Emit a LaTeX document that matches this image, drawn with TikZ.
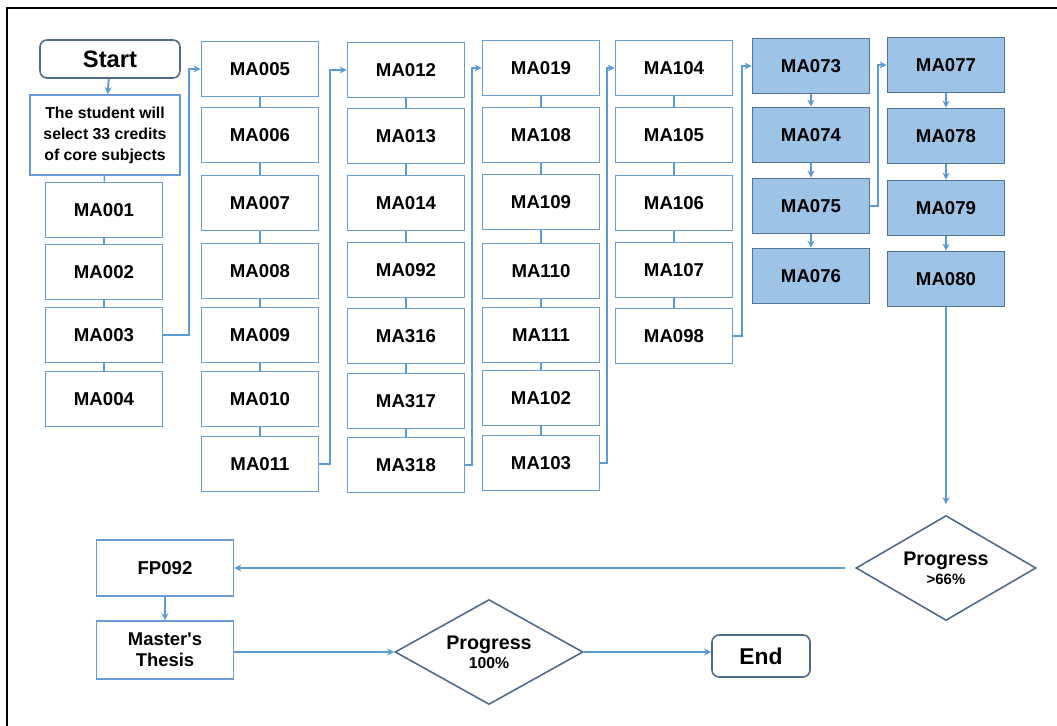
\documentclass[tikz,border=0pt]{standalone}
\usepackage{fontspec}
\setmainfont{Liberation Sans}
\usepackage{tikz}
\usetikzlibrary{shapes.geometric}
\usetikzlibrary{arrows.meta}
\definecolor{linkblue}{RGB}{91,155,213}
\definecolor{boxedge}{RGB}{105,155,212}
\definecolor{fillblue}{RGB}{157,195,230}
\definecolor{filledge}{RGB}{85,115,150}
\definecolor{darkedge}{RGB}{80,105,135}
\tikzset{
  course/.style={draw=boxedge, line width=1pt, minimum width=2.34cm, minimum height=1.1cm, inner sep=0pt, font=\fontsize{10.6}{12}\selectfont\bfseries},
  termbox/.style={draw=darkedge, line width=0.9pt, rounded corners=4pt, inner sep=0pt, font=\fontsize{13.5}{15}\selectfont\bfseries},
  check/.style={diamond, aspect=1.7, draw=darkedge, line width=0.9pt, minimum width=3.6cm, minimum height=2.1cm, inner sep=0pt, align=center, font=\fontsize{11.2}{12}\selectfont\bfseries},
  link/.style={draw=linkblue, line width=0.8pt},
  flow/.style={draw=linkblue, line width=1.1pt, -{Stealth[length=4pt,width=4pt]}}
}
\newcommand{\course}[3]{\node[course] (#1) at (#2,#3) {#1};}
\newcommand{\coursefill}[3]{\node[course, fill=fillblue, draw=filledge] (#1) at (#2,#3) {#1};}

\begin{document}
\begin{tikzpicture}[x=0.02cm, y=-0.02cm]
    \useasboundingbox (0,0) rectangle (1057,726);
    \draw[line width=1.7pt] (7,726) -- (7,8) -- (1057,8);

    % first column
    \node[termbox, minimum width=2.8cm, minimum height=0.76cm] (start) at (110,59) {Start};
    \node[course, minimum width=3.0cm, minimum height=1.6cm, align=center, font=\fontsize{9}{12}\selectfont\bfseries] (select) at (105,135) {The student will\\select 33 credits\\of core subjects};
    \course{MA001}{104}{210}
    \course{MA002}{104}{272}
    \course{MA003}{104}{335}
    \course{MA004}{104}{399}
    \draw[flow] (start) -- (select);
    \draw[link] (select) -- (MA001);
    \draw[link] (MA001) -- (MA002);
    \draw[link] (MA002) -- (MA003);
    \draw[link] (MA003) -- (MA004);

    % second column
    \course{MA005}{260}{69}
    \course{MA006}{260}{135}
    \course{MA007}{260}{203}
    \course{MA008}{260}{271}
    \course{MA009}{260}{335}
    \course{MA010}{260}{399}
    \course{MA011}{260}{464}
    \draw[link] (MA005) -- (MA006);
    \draw[link] (MA006) -- (MA007);
    \draw[link] (MA007) -- (MA008);
    \draw[link] (MA008) -- (MA009);
    \draw[link] (MA009) -- (MA010);
    \draw[link] (MA010) -- (MA011);

    % third column
    \course{MA012}{406}{70}
    \course{MA013}{406}{136}
    \course{MA014}{406}{203}
    \course{MA092}{406}{270}
    \course{MA316}{406}{336}
    \course{MA317}{406}{401}
    \course{MA318}{406}{465}
    \draw[link] (MA012) -- (MA013);
    \draw[link] (MA013) -- (MA014);
    \draw[link] (MA014) -- (MA092);
    \draw[link] (MA092) -- (MA316);
    \draw[link] (MA316) -- (MA317);
    \draw[link] (MA317) -- (MA318);

    % fourth column
    \course{MA019}{541}{68}
    \course{MA108}{541}{135}
    \course{MA109}{541}{202}
    \course{MA110}{541}{271}
    \course{MA111}{541}{335}
    \course{MA102}{541}{398}
    \course{MA103}{541}{463}
    \draw[link] (MA019) -- (MA108);
    \draw[link] (MA108) -- (MA109);
    \draw[link] (MA109) -- (MA110);
    \draw[link] (MA110) -- (MA111);
    \draw[link] (MA111) -- (MA102);
    \draw[link] (MA102) -- (MA103);

    % fifth column
    \course{MA104}{674}{68}
    \course{MA105}{674}{135}
    \course{MA106}{674}{203}
    \course{MA107}{674}{270}
    \course{MA098}{674}{336}
    \draw[link] (MA104) -- (MA105);
    \draw[link] (MA105) -- (MA106);
    \draw[link] (MA106) -- (MA107);
    \draw[link] (MA107) -- (MA098);

    % shaded columns
    \coursefill{MA073}{811}{66}
    \coursefill{MA074}{811}{135}
    \coursefill{MA075}{811}{206}
    \coursefill{MA076}{811}{276}
    \coursefill{MA077}{946}{65}
    \coursefill{MA078}{946}{136}
    \coursefill{MA079}{946}{208}
    \coursefill{MA080}{946}{279}
    \draw[flow] (MA073) -- (MA074);
    \draw[flow] (MA074) -- (MA075);
    \draw[flow] (MA075) -- (MA076);
    \draw[flow] (MA077) -- (MA078);
    \draw[flow] (MA078) -- (MA079);
    \draw[flow] (MA079) -- (MA080);

    % jumps between columns
    \draw[flow] (MA003.east) -- ++(26,0) |- (MA005.west);
    \draw[flow] (MA011.east) -- ++(11,0) |- (MA012.west);
    \draw[flow] (MA318.east) -- ++(7,0) |- (MA019.west);
    \draw[flow] (MA103.east) -- ++(7,0) |- (MA104.west);
    \draw[flow] (MA098.east) -- ++(9,0) |- (MA073.west);
    \draw[flow] (MA075.east) -- ++(8,0) |- (MA077.west);

    % bottom part
    \node[check] (prog66) at (946,568) {Progress\\[-1pt]{\fontsize{8.5}{10}\selectfont >66\%}};
    \node[course, minimum width=2.74cm, minimum height=1.12cm] (FP092) at (165,568) {FP092};
    \node[course, minimum width=2.74cm, minimum height=1.16cm, align=center, font=\fontsize{10.5}{12}\selectfont\bfseries] (thesis) at (165,650) {Master\textquotesingle s\\Thesis};
    \node[check, minimum width=3.76cm] (prog100) at (489,652) {Progress\\[-1pt]{\fontsize{9}{10}\selectfont 100\%}};
    \node[termbox, minimum width=1.96cm, minimum height=0.84cm, font=\fontsize{13}{15}\selectfont\bfseries] (end) at (761,656) {End};
    \draw[flow, shorten >=6pt] (MA080) -- (prog66);
    \draw[flow, shorten <=6pt] (prog66) -- (FP092);
    \draw[flow] (FP092) -- (thesis);
    \draw[flow] (thesis.east |- prog100.west) -- (prog100.west);
    \draw[flow] (prog100.east) -- (prog100.east -| end.west);
\end{tikzpicture}
\end{document}
